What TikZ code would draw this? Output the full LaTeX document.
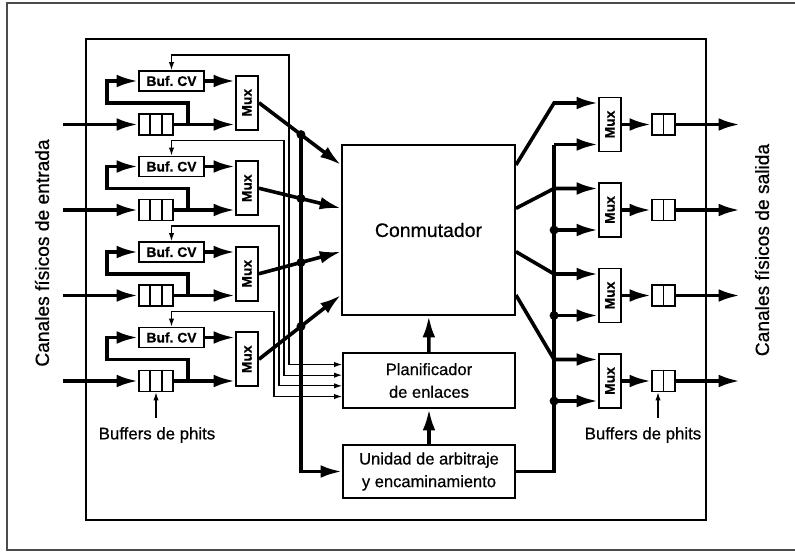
\documentclass[tikz,border=0pt]{standalone}
\usepackage{fontspec}
\setmainfont{Liberation Sans}[FakeBold=0.6]
\usetikzlibrary{arrows.meta,calc}

\begin{document}
\begin{tikzpicture}[
		x=0.75pt,y=-0.75pt,
		>={Latex[length=16pt,width=9.5pt]},
		every node/.style={font=\fontsize{12.4}{17}\selectfont, inner sep=0pt},
		blk/.style={draw, line width=1.4pt, align=center},
		bus/.style={line width=2.7pt},
		ctl/.style={line width=0.8pt, >={Latex[length=6pt,width=4pt]}},
		bufcv/.style={blk, minimum width=65*0.75pt, minimum height=20*0.75pt,
			font=\fontsize{10.4}{12}\selectfont\bfseries},
		mux/.style={blk, minimum width=22*0.75pt, minimum height=54*0.75pt,
			font=\fontsize{10.4}{12}\selectfont\bfseries},
		phit/.style={blk, minimum height=21*0.75pt},
		dot/.style={circle, fill, minimum size=9*0.75pt}
		]
		\useasboundingbox (0,0) rectangle (795,553);
		
		% =========================
		% Frames
		% =========================
		\draw[line width=0.8pt, black!70] (795,3) -- (7,3) -- (7,550) -- (795,550);
		\draw[line width=1.2pt] (86,39) rectangle (706,520);
		
		% =========================
		% Centre: switch, scheduler, routing unit
		% =========================
		\node[blk, minimum width=173*0.75pt, minimum height=170*0.75pt,
			font=\fontsize{14.6}{17}\selectfont] (sw) at (428.5,230) {\raisebox{-4pt}{Conmutador}};
		\node[blk, minimum width=172*0.75pt, minimum height=55*0.75pt] (pl) at (429,380.5)
			{Planificador\\de enlaces};
		\node[blk, minimum width=172*0.75pt, minimum height=53*0.75pt] (ua) at (429,471.5)
			{Unidad de arbitraje\\y encaminamiento};
		\draw[bus,->] (ua) -- (pl);
		\draw[bus,->] (pl) -- (sw);
		
		% =========================
		% Input and output channels
		% =========================
		\foreach \i in {1,...,4}{
			\pgfmathsetmacro{\yb}{81+85.5*(\i-1)}
			\pgfmathsetmacro{\yq}{\yb+43.5}
			\pgfmathsetmacro{\xc}{289-5*(\i-1)}
			\pgfmathsetmacro{\dy}{-16+10.67*(\i-1)}
			\pgfmathsetmacro{\ds}{-65+43.33*(\i-1)}
			
			% input side
			\coordinate (in\i) at (63,\yq);
			\node[bufcv] (cv\i) at (171.5,\yb) {Buf.\ CV};
			\node[phit, minimum width=34*0.75pt] (q\i) at (156,\yq) {};
			\draw[line width=1.4pt] ($(q\i.north)+(-5.67,0)$) -- ($(q\i.south)+(-5.67,0)$)
				($(q\i.north)+(5.67,0)$) -- ($(q\i.south)+(5.67,0)$);
			\node[mux] (mx\i) at (247,\yb+21.75) {\rotatebox{90}{Mux}};
			\coordinate (br\i) at (188,\yq);
			\draw[bus,->] (in\i) -- (q\i.west);
			\draw[bus,->] (q\i.east) -- (mx\i.west |- q\i);
			\draw[bus,->] (br\i) |- ++(-81,-21.5) |- (cv\i.west);
			\draw[bus,->] (cv\i.east) -- (mx\i.west |- cv\i);
			\draw[ctl,<->] (cv\i.north) |- (\xc,\yb-26) |- ($(pl.west)+(0,\dy)$);
			\coordinate (si\i) at ($(sw.west)+(0,\ds)$);
			\draw[bus,->] (mx\i.east) -- (si\i);
			\node[dot] (d\i) at ($(mx\i.east)!0.512!(si\i)$) {};
			
			% output side
			\node[mux] (om\i) at (610,\yq) {\rotatebox{90}{Mux}};
			\node[phit, minimum width=23*0.75pt] (ob\i) at (663.5,\yq) {};
			\draw[line width=1.4pt] (ob\i.north) -- (ob\i.south);
			\coordinate (out\i) at (740,\yq);
			\coordinate (so\i) at ($(sw.east)+(0,\ds)$);
			\coordinate (oi\i) at ($(om\i.west)+(-44,20)$);
			\draw[bus,->] (so\i) -- ($(om\i.west)+(-44,-21.5)$) -- ($(om\i.west)+(0,-21.5)$);
			\draw[bus,->] (oi\i) -- ($(om\i.west)+(0,20)$);
			\ifnum\i>1 \node[dot] at (oi\i) {}; \fi
			\draw[bus,->] (om\i.east) -- (ob\i.west);
			\draw[bus,->] (ob\i.east) -- (out\i);
		}
		
		\draw[bus,->] (d1.center) |- (ua.west);
		\draw[bus] (ua.east) -| (oi1);
		
		% =========================
		% Labels
		% =========================
		\node[font=\fontsize{12.6}{15}\selectfont, inner ysep=7pt] (bli) at (157,435)
			{Buffers de phits};
		\draw[ctl,->] (bli.north -| q4.south) -- (q4.south);
		\node[font=\fontsize{12.6}{15}\selectfont, inner ysep=7pt] (blo) at (643,435)
			{Buffers de phits};
		\draw[ctl,->] ($(blo.north -| ob4.south)+(-5.5,0)$) -- ($(ob4.south)+(-5.5,0)$);
		
		\node[rotate=90, font=\fontsize{14.4}{17}\selectfont] (ent) at (42,253)
			{Canales físicos de entrada};
		\node[rotate=90, font=\fontsize{14.4}{17}\selectfont] (sal) at (762,250)
			{Canales físicos de salida};
	\end{tikzpicture}
\end{document}
